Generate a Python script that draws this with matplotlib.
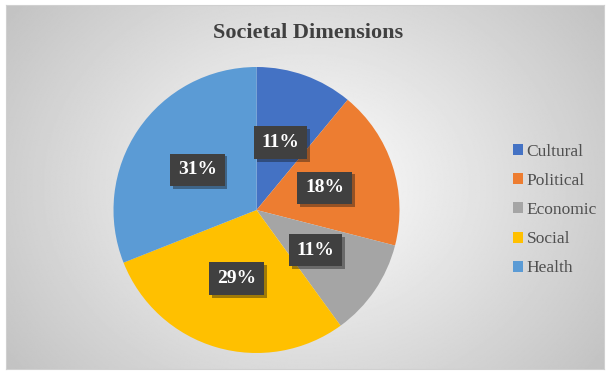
import numpy as np
import matplotlib.pyplot as plt
import matplotlib.patheffects as pe

labels = ["Cultural", "Political", "Economic", "Social", "Health"]
values = [11, 18, 11, 29, 31]
colors = ["#4472C4", "#ED7D31", "#A5A5A5", "#FFC000", "#5B9BD5"]

plt.rcParams["font.family"] = ["Liberation Serif", "DejaVu Serif"]

fig = plt.figure(figsize=(6.06, 3.74), dpi=100, facecolor="white")

# chart area background: radial gradient, white in the middle, grey at the edges
bg = fig.add_axes([6 / 606, 5 / 374, 598 / 606, 364 / 374])
yy, xx = np.mgrid[-1:1:300j, -1:1:500j]
rr = np.sqrt(xx ** 2 + (yy * 0.75) ** 2)
bg.imshow(1 - 0.24 * np.clip(rr, 0, 1.25) / 1.25, cmap="gray", vmin=0, vmax=1,
          aspect="auto", extent=[0, 1, 0, 1])
bg.set_xticks([])
bg.set_yticks([])
for s in bg.spines.values():
    s.set_color("#D0D0D0")
    s.set_linewidth(0.8)

fig.text(0.509, 0.913, "Societal Dimensions", ha="center", va="center",
         fontsize=16, fontweight="bold", color="#404040")

ax = fig.add_axes([113 / 606, 1 - 353 / 374, 287 / 606, 286 / 374])
wedges, texts, autotexts = ax.pie(
    values, colors=colors, startangle=90, counterclock=False,
    autopct="%1.0f%%", pctdistance=0.5,
    wedgeprops=dict(linewidth=0),
    textprops=dict(color="white", fontsize=14, fontweight="bold"),
)
for t in autotexts:
    t.set_bbox(dict(boxstyle="square,pad=0.4", facecolor="#404040",
                    edgecolor="none",
                    path_effects=[pe.withSimplePatchShadow(offset=(2, -2), alpha=0.4)]))
ax.set_xlim(-1, 1)
ax.set_ylim(-1, 1)
ax.set_aspect("equal")

leg = fig.legend(wedges, labels, loc="center left",
                 bbox_to_anchor=(497 / 606, 1 - 210 / 374), frameon=False,
                 fontsize=12.5, handlelength=0.6, handleheight=0.6,
                 handletextpad=0.2, labelspacing=0.76)
for t in leg.get_texts():
    t.set_color("#505050")

fig.savefig("out.png", dpi=100)
